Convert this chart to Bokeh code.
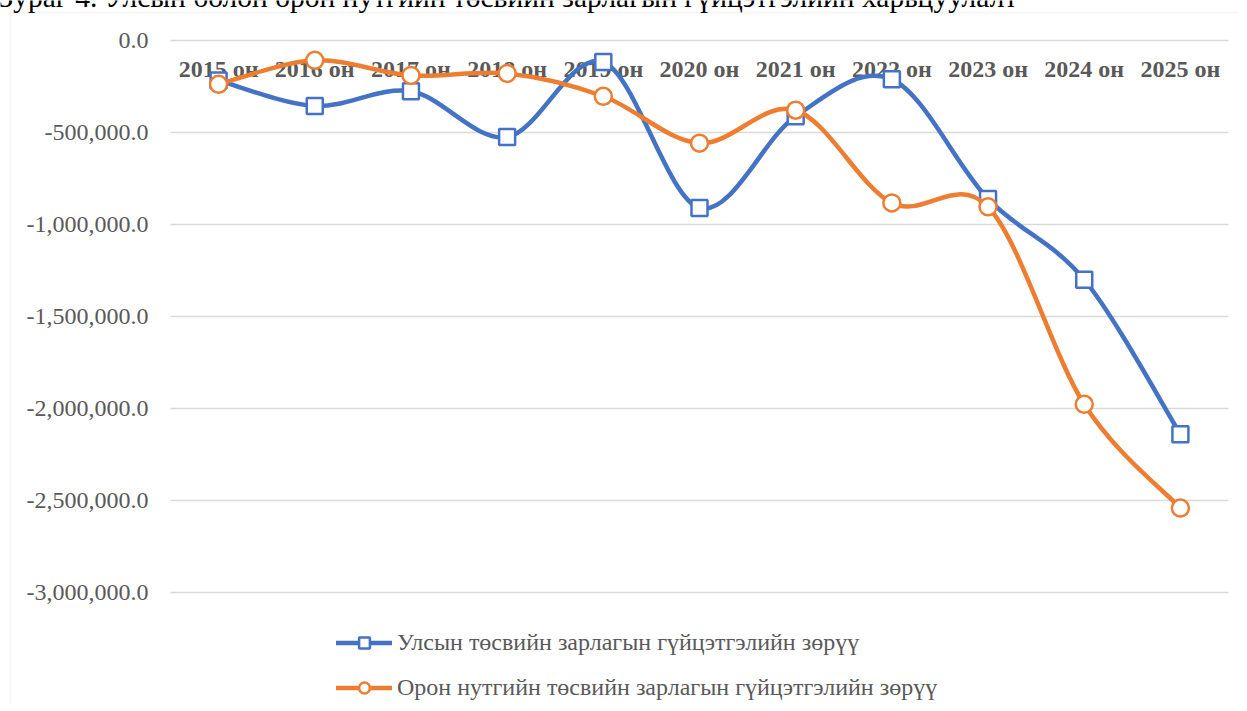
import numpy as np
from bokeh.plotting import figure
from bokeh.models import (ColumnDataSource, Range1d, Legend, LegendItem, Label, BoxAnnotation)
from bokeh.core.properties import value
from bokeh.embed import file_html
from bokeh.resources import INLINE

# ---- data ----
years = ["2015 он", "2016 он", "2017 он", "2018 он", "2019 он", "2020 он",
         "2021 он", "2022 он", "2023 он", "2024 он", "2025 он"]
state_budget = [-217000, -356000, -276000, -525000, -117000, -910000,
                -412000, -211000, -861000, -1300000, -2140000]
local_budget = [-238000, -108000, -190000, -179000, -303000, -558000,
                -379000, -883000, -904000, -1977000, -2541000]
y_ticks = [0, -500000, -1000000, -1500000, -2000000, -2500000, -3000000]
y_tick_labels = [f"{v:,.1f}" for v in y_ticks]
series_names = ["Улсын төсвийн зарлагын гүйцэтгэлийн зөрүү",
                "Орон нутгийн төсвийн зарлагын гүйцэтгэлийн зөрүү"]
title_text = "Зураг 4. Улсын болон орон нутгийн төсвийн зарлагын гүйцэтгэлийн харьцуулалт"

BLUE = "#4472C4"
ORANGE = "#ED7D31"
GRAY = "#595959"
GRID = "#D9D9D9"
SERIF = "Liberation Serif"

n = len(years)
xpos = np.arange(n) + 0.5

# ---- layout (pixels) ----
W, H = 1239, 703
TOP, LEFT, RIGHT = 40, 170, 11       # plot-area edges inside the canvas
AXIS_PX = 552                        # pixels spanned by 0 .. -3,000,000
px_x = (W - LEFT - RIGHT) / n
px_y = AXIS_PX / -y_ticks[-1]


def canvas_to_data(cx, cy):
    return (cx - LEFT) / px_x, (TOP - cy) / px_y


x0d, y_top = canvas_to_data(0, 0)
x1d, y_bot = canvas_to_data(W, H)

p = figure(width=W, height=H, output_backend="svg", toolbar_location=None,
           x_range=Range1d(x0d, x1d), y_range=Range1d(y_bot, y_top),
           min_border=0, x_axis_location=None, y_axis_location=None)
p.outline_line_color = None
p.background_fill_color = "white"
p.border_fill_color = "white"
p.grid.visible = False

# outer chart-area border (left/top edges visible, the rest runs off the page)
p.add_layout(BoxAnnotation(left=10, top=12, right=W + 100, bottom=H + 100,
                           left_units="canvas", right_units="canvas",
                           top_units="canvas", bottom_units="canvas",
                           fill_alpha=0, line_color=GRID, line_width=1.5,
                           level="underlay"))

# horizontal gridlines across the plot area
p.segment(x0=[0] * len(y_ticks), x1=[n] * len(y_ticks), y0=y_ticks, y1=y_ticks,
          line_color=GRID, line_width=1.5)

# value-axis labels
p.text(x=[0] * len(y_ticks), y=y_ticks, text=y_tick_labels, x_offset=-22,
       text_align="right", text_baseline="middle",
       text_font=value(SERIF), text_font_size="24px", text_color=GRAY)

# category labels along the zero line
p.text(x=xpos, y=[0] * n, text=years, y_offset=28,
       text_align="center", text_baseline="middle",
       text_font=value(SERIF), text_font_style="bold", text_font_size="24px",
       text_color=GRAY)


def bezier_source(vals):
    P = np.column_stack([xpos, np.array(vals, dtype=float)])
    d = dict(x0=[], y0=[], x1=[], y1=[], cx0=[], cy0=[], cx1=[], cy1=[])
    for i in range(n - 1):
        pm = P[i - 1] if i > 0 else P[i]
        pn = P[i + 2] if i + 2 < n else P[i + 1]
        c0 = P[i] + (P[i + 1] - pm) / 6.0
        c1 = P[i + 1] - (pn - P[i]) / 6.0
        d["x0"].append(P[i][0]); d["y0"].append(P[i][1])
        d["x1"].append(P[i + 1][0]); d["y1"].append(P[i + 1][1])
        d["cx0"].append(c0[0]); d["cy0"].append(c0[1])
        d["cx1"].append(c1[0]); d["cy1"].append(c1[1])
    return ColumnDataSource(d)


b1 = p.bezier(x0="x0", y0="y0", x1="x1", y1="y1", cx0="cx0", cy0="cy0",
              cx1="cx1", cy1="cy1", source=bezier_source(state_budget),
              line_color=BLUE, line_width=4.5, line_cap="round")
m1 = p.scatter(xpos, state_budget, marker="square", size=16, line_color=BLUE,
               line_width=2.5, fill_color="white")
b2 = p.bezier(x0="x0", y0="y0", x1="x1", y1="y1", cx0="cx0", cy0="cy0",
              cx1="cx1", cy1="cy1", source=bezier_source(local_budget),
              line_color=ORANGE, line_width=4.5, line_cap="round")
m2 = p.scatter(xpos, local_budget, marker="circle", size=17, line_color=ORANGE,
               line_width=2.5, fill_color="white")

legend = Legend(items=[LegendItem(label=series_names[0], renderers=[b1, m1]),
                       LegendItem(label=series_names[1], renderers=[b2, m2])],
                location=(336, 2), orientation="vertical",
                glyph_width=56, glyph_height=27, label_height=27,
                label_standoff=5, spacing=18, padding=0, margin=0,
                border_line_color=None, background_fill_alpha=0,
                label_text_font=SERIF, label_text_font_size="24px",
                label_text_color=GRAY, label_text_baseline="middle")
p.add_layout(legend, "center")

# figure caption (cut off at the top of the page, as in the source)
tx, ty = canvas_to_data(-2, -4)
p.add_layout(Label(x=tx, y=ty, text=title_text, text_font=SERIF,
                   text_font_size="29.5px", text_color="black",
                   text_baseline="middle"))

open("out.html", "w").write(file_html(p, INLINE))
